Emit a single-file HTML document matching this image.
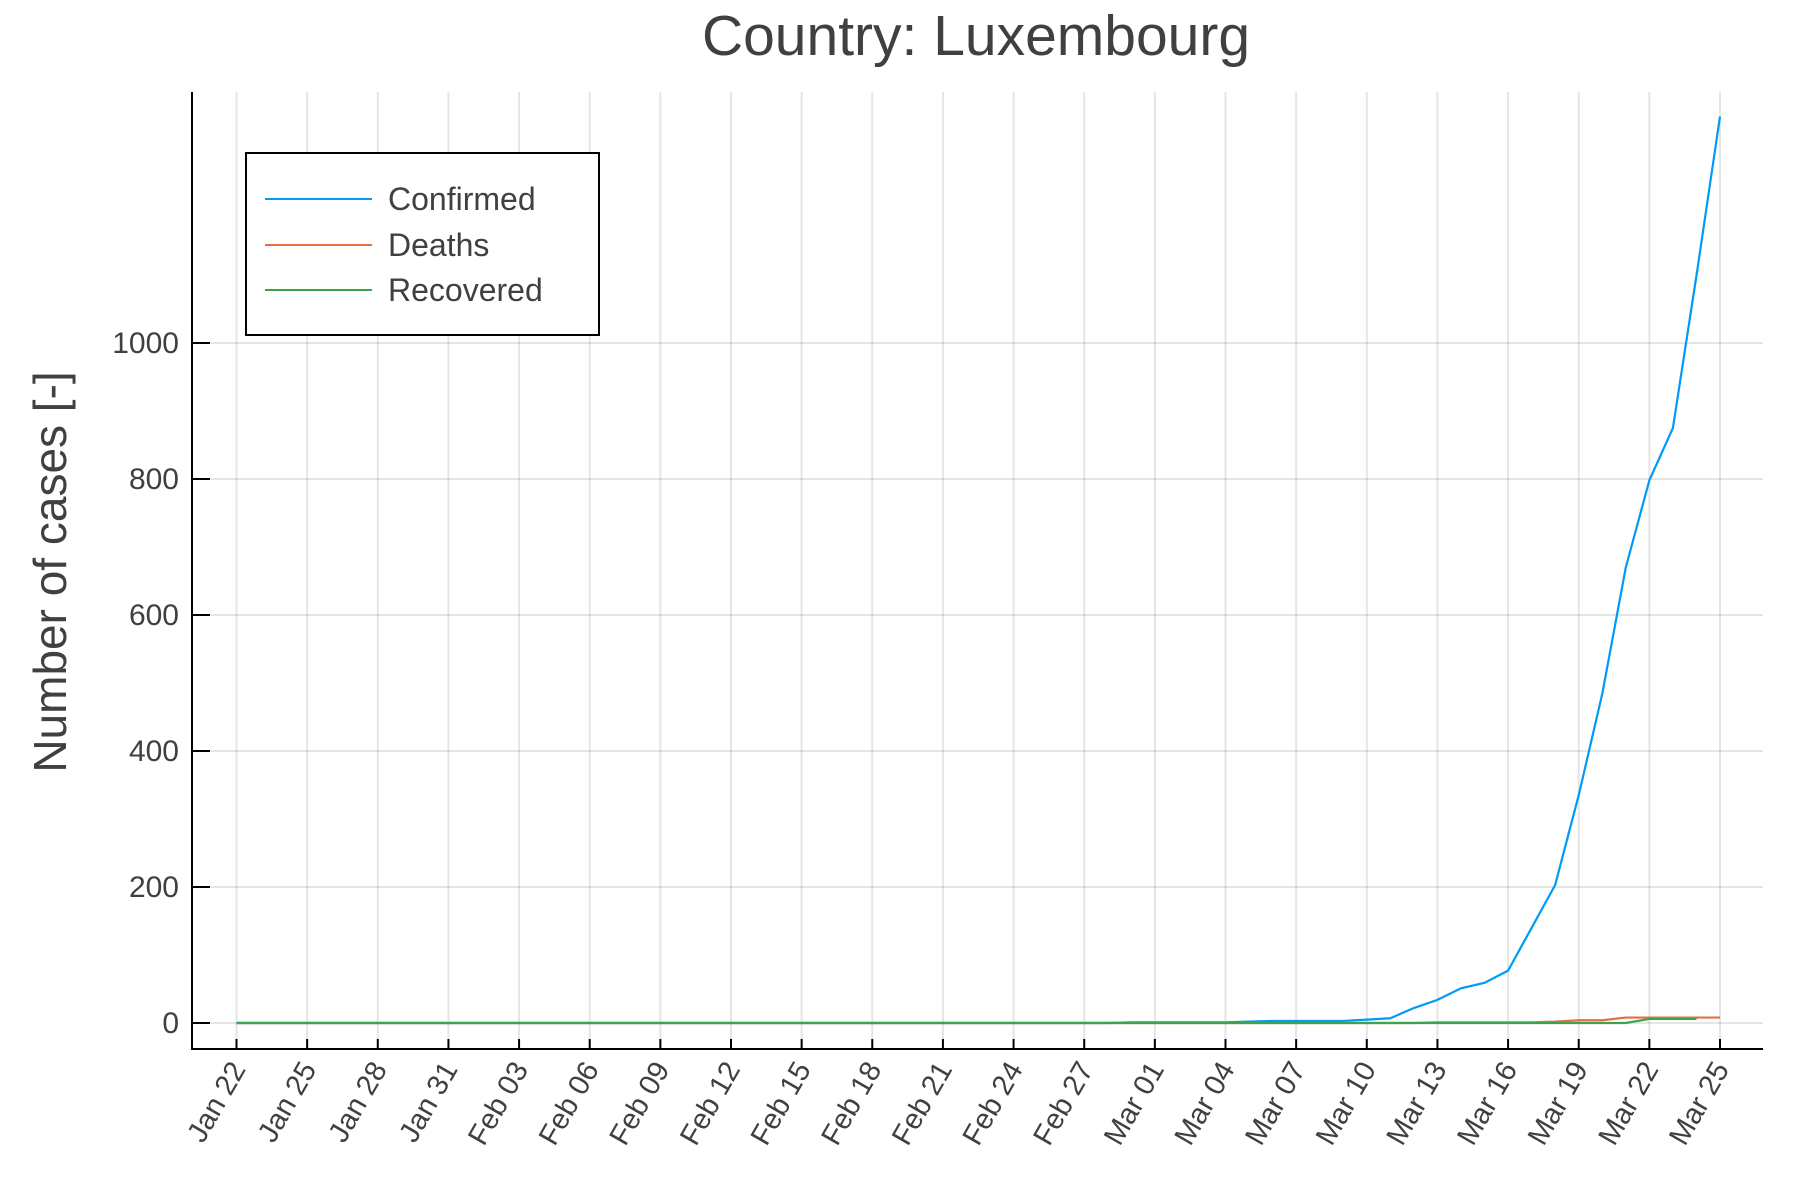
<!DOCTYPE html>
<html><head><meta charset="utf-8"><style>
html,body{margin:0;padding:0;background:#fff;}
svg{display:block;font-family:"Liberation Sans",Arial,sans-serif;}
</style></head><body>
<svg id="chart" width="1800" height="1200" viewBox="0 0 1800 1200">
<text x="976" y="55" text-anchor="middle" font-size="57" fill="#404040">Country: Luxembourg</text>
<text transform="translate(66,572) rotate(-90)" text-anchor="middle" font-size="46" fill="#404040">Number of cases [-]</text>
<g id="grid"></g>
<g id="series"></g>
<g id="axes"></g>
<g>
<rect x="246" y="153" width="353" height="182" fill="#fff" stroke="#000" stroke-width="2"/>
<line x1="265" y1="199" x2="372" y2="199" stroke="#009af9" stroke-width="2"/>
<text x="388" y="210" font-size="32" fill="#404040">Confirmed</text>
<line x1="265" y1="245" x2="372" y2="245" stroke="#e26f46" stroke-width="2"/>
<text x="388" y="256" font-size="32" fill="#404040">Deaths</text>
<line x1="265" y1="290" x2="372" y2="290" stroke="#3da44d" stroke-width="2"/>
<text x="388" y="301" font-size="32" fill="#404040">Recovered</text>
</g>
</svg>
<script>
const dateLabels = ["Jan 22","Jan 25","Jan 28","Jan 31","Feb 03","Feb 06","Feb 09","Feb 12","Feb 15","Feb 18","Feb 21","Feb 24","Feb 27","Mar 01","Mar 04","Mar 07","Mar 10","Mar 13","Mar 16","Mar 19","Mar 22","Mar 25"];
const yTicks = [0,200,400,600,800,1000];
const confirmed = [0,0,0,0,0,0,0,0,0,0, 0,0,0,0,0,0,0,0,0,0, 0,0,0,0,0,0,0,0,0,0, 0,0,0,0,0,0,0,0,1,1, 1,1,1,2,3,3,3,3,5,7, 22,34,51,59,77,140,203,335,484,670, 798,875,1099,1333];
const deaths = [0,0,0,0,0,0,0,0,0,0, 0,0,0,0,0,0,0,0,0,0, 0,0,0,0,0,0,0,0,0,0, 0,0,0,0,0,0,0,0,0,0, 0,0,0,0,0,0,0,0,0,0, 0,1,1,1,1,1,2,4,4,8, 8,8,8,8];
const recovered = [0,0,0,0,0,0,0,0,0,0, 0,0,0,0,0,0,0,0,0,0, 0,0,0,0,0,0,0,0,0,0, 0,0,0,0,0,0,0,0,0,0, 0,0,0,0,0,0,0,0,0,0, 0,0,0,0,0,0,0,0,0,0, 6,6,6];

const NS="http://www.w3.org/2000/svg";
const L=192,R=1763,T=92,B=1049;
const xDay=d=>236.5+d*(1720-236.5)/63;
const yVal=v=>1023-v*0.68;
function mk(tag,attrs,parent){const e=document.createElementNS(NS,tag);for(const k in attrs)e.setAttribute(k,attrs[k]);parent.appendChild(e);return e;}
const grid=document.getElementById('grid'),axes=document.getElementById('axes'),series=document.getElementById('series');
dateLabels.forEach((lab,i)=>{
  const x=xDay(i*3);
  const g=mk('line',{x1:x,y1:T,x2:x,y2:B,stroke:'#000','stroke-opacity':0.1,'stroke-width':2},grid);
  
  
  const t=mk('line',{x1:x,y1:B,x2:x,y2:B-10,stroke:'#000','stroke-width':2},axes);
  
  
  const tx=mk('text',{transform:`translate(${x+10},${B+20}) rotate(-60)`,'text-anchor':'end','font-size':29,fill:'#404040'},axes);
  tx.textContent=lab;
  
  
});
yTicks.forEach(v=>{
  const y=yVal(v);
  const g=mk('line',{x1:L,y1:y,x2:R,y2:y,stroke:'#000','stroke-opacity':0.1,'stroke-width':2},grid);
  
  
  const t=mk('line',{x1:L,y1:y,x2:L+18,y2:y,stroke:'#000','stroke-width':2},axes);
  
  
  const tx=mk('text',{x:L-13,y:y+10,'text-anchor':'end','font-size':30,fill:'#404040'},axes);
  tx.textContent=v;
  
  
});
const ax=mk('path',{d:`M${L},${T} L${L},${B} L${R},${B}`,fill:'none',stroke:'#000','stroke-width':2},axes);


[[confirmed,'#009af9','confirmed-line'],[deaths,'#e26f46','deaths-line'],[recovered,'#3da44d','recovered-line']].forEach(([arr,c,n])=>{
  const p=mk('polyline',{points:arr.map((v,i)=>xDay(i)+','+yVal(v)).join(' '),fill:'none',stroke:c,'stroke-width':2.2},series);
  
  
});
</script>
</body></html>
